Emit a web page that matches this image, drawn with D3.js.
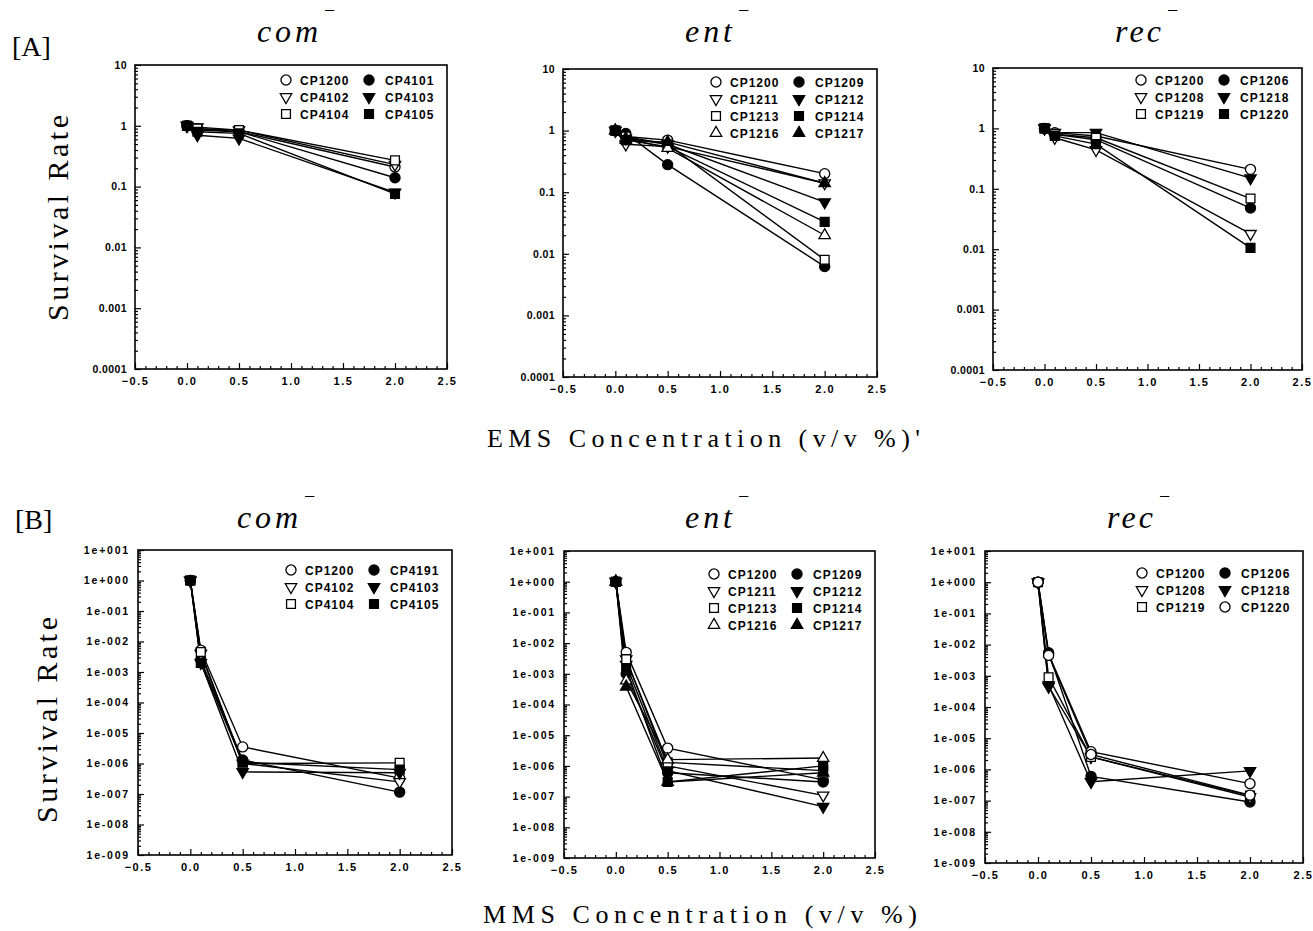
<!DOCTYPE html>
<html>
<head>
<meta charset="utf-8">
<title>Survival rate</title>
<script src="https://cdn.jsdelivr.net/npm/d3@7"></script>
<style>
  body { margin: 0; background: #fff; }
  svg { display: block; }
  .tick text { font-family: "Liberation Sans", Arial, sans-serif; font-weight: bold; fill: #000; }
  .lg { font-family: "Liberation Sans", Arial, sans-serif; font-weight: bold; font-size: 12px; letter-spacing: 1px; }
  .serif { font-family: "Liberation Serif", "DejaVu Serif", serif; fill: #000; }
</style>
</head>
<body>
<svg id="fig" width="1313" height="931"></svg>
<script>
// doses (v/v %)
var emsDose = [0, 0.1, 0.5, 2.0];
var mmsDose = [0, 0.1, 0.5, 2.0];

// strains per panel
var comStrains = ["CP1200", "CP4101", "CP4102", "CP4103", "CP4104", "CP4105"];
var comStrainsB = ["CP1200", "CP4191", "CP4102", "CP4103", "CP4104", "CP4105"];
var entStrains = ["CP1200", "CP1209", "CP1211", "CP1212", "CP1213", "CP1214", "CP1216", "CP1217"];
var recStrains = ["CP1200", "CP1206", "CP1208", "CP1218", "CP1219", "CP1220"];

// survival rates, EMS
var comEMS = [
  [1, 0.90, 0.80, 0.21],
  [1, 0.85, 0.80, 0.14],
  [1, 0.95, 0.85, 0.23],
  [1, 0.70, 0.62, 0.08],
  [1, 0.90, 0.85, 0.27],
  [1, 0.80, 0.75, 0.076]
];
var entEMS = [
  [1, 0.80, 0.70, 0.20],
  [1, 0.90, 0.28, 0.0062],
  [1, 0.60, 0.55, 0.14],
  [1, 0.75, 0.60, 0.069],
  [1, 0.80, 0.60, 0.008],
  [1, 0.70, 0.55, 0.033],
  [1, 0.75, 0.52, 0.020],
  [1, 0.70, 0.65, 0.14]
];
var recEMS = [
  [1, 0.85, 0.75, 0.21],
  [1, 0.80, 0.65, 0.048],
  [1, 0.70, 0.44, 0.018],
  [1, 0.85, 0.85, 0.15],
  [1, 0.80, 0.70, 0.069],
  [1, 0.75, 0.55, 0.0105]
];

// survival rates, MMS
var comMMS = [
  [1, 5.2e-3, 3.5e-6, 3.3e-7],
  [1, 2.5e-3, 1.3e-6, 1.15e-7],
  [1, 4e-3, 1.0e-6, 2.5e-7],
  [1, 2e-3, 5.3e-7, 5e-7],
  [1, 4.5e-3, 1.0e-6, 1.05e-6],
  [1, 2e-3, 1.1e-6, 6.3e-7]
];
var entMMS = [
  [1, 5e-3, 3.8e-6, 3.5e-7],
  [1, 1e-3, 6e-7, 3e-7],
  [1, 3e-3, 1e-6, 1.1e-7],
  [1, 2e-3, 7e-7, 4.7e-8],
  [1, 3e-3, 1.3e-6, 7e-7],
  [1, 1.5e-3, 3e-7, 1e-6],
  [1, 6e-4, 1.6e-6, 1.8e-6],
  [1, 3.8e-4, 3e-7, 6e-7]
];
var recMMS = [
  [1, 5e-3, 3.7e-6, 3.5e-7],
  [1, 5.5e-3, 6e-7, 9e-8],
  [1, 4.5e-4, 2.5e-6, 1.3e-7],
  [1, 5e-4, 4e-7, 9e-7],
  [1, 9e-4, 2.5e-6, 1.45e-7],
  [1, 4.5e-3, 3e-6, 1.5e-7]
];

// tick labels
var xTickValues = [-0.5, 0, 0.5, 1.0, 1.5, 2.0, 2.5];
var xTickLabels = ["\u22120.5", "0.0", "0.5", "1.0", "1.5", "2.0", "2.5"];
var emsYValues = [10, 1, 0.1, 0.01, 0.001, 0.0001];
var emsYLabels = ["10", "1", "0.1", "0.01", "0.001", "0.0001"];
var mmsYValues = [1e1, 1e0, 1e-1, 1e-2, 1e-3, 1e-4, 1e-5, 1e-6, 1e-7, 1e-8, 1e-9];
var mmsYLabels = ["1e+001", "1e+000", "1e-001", "1e-002", "1e-003", "1e-004",
                  "1e-005", "1e-006", "1e-007", "1e-008", "1e-009"];

// marker styles (shape, filled)
var sixMarks = [["circle", 0], ["circle", 1], ["down", 0], ["down", 1], ["square", 0], ["square", 1]];
var eightMarks = [["circle", 0], ["circle", 1], ["down", 0], ["down", 1], ["square", 0], ["square", 1], ["up", 0], ["up", 1]];
var recMarksB = [["circle", 0], ["circle", 1], ["down", 0], ["down", 1], ["square", 0], ["circle", 0]];

var panels = [
  {title: "com", strains: comStrains, dose: emsDose, vals: comEMS, marks: sixMarks, yv: emsYValues, yl: emsYLabels,
   L: {left: 135, right: 447, top: 65, bottom: 369, tx: 257, ty: 42, lgTop: 15}},
  {title: "ent", strains: entStrains, dose: emsDose, vals: entEMS, marks: eightMarks, yv: emsYValues, yl: emsYLabels,
   L: {left: 563, right: 877, top: 69, bottom: 377, tx: 685, ty: 42, lgTop: 13}},
  {title: "rec", strains: recStrains, dose: emsDose, vals: recEMS, marks: sixMarks, yv: emsYValues, yl: emsYLabels,
   L: {left: 993, right: 1302, top: 68, bottom: 370, tx: 1115, ty: 42, lgTop: 12}},
  {title: "com", strains: comStrainsB, dose: mmsDose, vals: comMMS, marks: sixMarks, yv: mmsYValues, yl: mmsYLabels,
   L: {left: 138, right: 452, top: 550, bottom: 855, tx: 237, ty: 528, lgTop: 20}},
  {title: "ent", strains: entStrains, dose: mmsDose, vals: entMMS, marks: eightMarks, yv: mmsYValues, yl: mmsYLabels,
   L: {left: 564, right: 875, top: 551, bottom: 858, tx: 685, ty: 528, lgTop: 23}},
  {title: "rec", strains: recStrains, dose: mmsDose, vals: recMMS, marks: recMarksB, yv: mmsYValues, yl: mmsYLabels,
   L: {left: 985, right: 1303, top: 551, bottom: 863, tx: 1107, ty: 528, lgTop: 22}}
];

var titleWidth = {com: 61, ent: 47, rec: 46};

var svg = d3.select("#fig");

var symbolOf = {
  circle: d3.symbol(d3.symbolCircle, 80),
  square: d3.symbol(d3.symbolSquare, 78),
  up: d3.symbol(d3.symbolTriangle, 56),
  down: d3.symbol(d3.symbolTriangle, 56)
};

function putMark(g, m, cx, cy) {
  g.append("path")
    .attr("d", symbolOf[m[0]]())
    .attr("transform", "translate(" + cx + "," + cy + ")" + (m[0] == "down" ? " rotate(180)" : ""))
    .attr("fill", m[1] ? "#000" : "#fff")
    .attr("stroke", "#000")
    .attr("stroke-width", 1.3);
}

panels.forEach(function(p) {
  var L = p.L;
  var g = svg.append("g");
  var x = d3.scaleLinear().domain([-0.5, 2.5]).range([L.left, L.right]);
  var yMax = d3.max(p.yv), yMin = d3.min(p.yv);
  var y = d3.scaleLog().domain([yMin, yMax]).range([L.bottom, L.top]);
  var isMMS = p.yv.length > 6;

  // minor ticks
  var xMinor = d3.range(-5, 26).map(function(i) { return i / 10; })
    .filter(function(v) { return Math.abs(v * 2 - Math.round(v * 2)) > 1e-6; });
  var yMinor = [];
  for (var e = Math.round(Math.log10(yMin)); e < Math.round(Math.log10(yMax)); e++) {
    for (var k = 2; k <= 9; k++) yMinor.push(k * Math.pow(10, e));
  }

  g.append("g").attr("transform", "translate(0," + L.bottom + ")")
    .call(d3.axisBottom(x).tickValues(xMinor).tickSize(-3).tickFormat(""))
    .call(function(s) { s.select(".domain").remove(); });
  g.append("g").attr("transform", "translate(0," + L.bottom + ")")
    .call(d3.axisBottom(x).tickValues(xTickValues).tickSize(-6).tickPadding(8)
      .tickFormat(function(d, i) { return xTickLabels[i]; }))
    .call(function(s) {
      s.select(".domain").remove();
      s.selectAll("text").style("font-size", "11px").style("letter-spacing", "1.5px");
    });

  g.append("g").attr("transform", "translate(" + L.left + ",0)")
    .call(d3.axisLeft(y).tickValues(yMinor).tickSize(-3).tickFormat(""))
    .call(function(s) { s.select(".domain").remove(); });
  g.append("g").attr("transform", "translate(" + L.left + ",0)")
    .call(d3.axisLeft(y).tickValues(p.yv).tickSize(-6).tickPadding(8)
      .tickFormat(function(d, i) { return p.yl[i]; }))
    .call(function(s) {
      s.select(".domain").remove();
      s.selectAll("text").style("font-size", isMMS ? "10.5px" : "10.5px")
        .style("letter-spacing", isMMS ? "1.8px" : "0.4px");
    });

  g.selectAll(".tick line").attr("stroke", "#000").attr("stroke-width", 1.2);

  g.append("rect")
    .attr("x", L.left).attr("y", L.top)
    .attr("width", L.right - L.left).attr("height", L.bottom - L.top)
    .attr("fill", "none").attr("stroke", "#000").attr("stroke-width", 1.6);

  // lines
  var line = d3.line()
    .x(function(d, i) { return x(p.dose[i]); })
    .y(function(d) { return y(d); });
  p.vals.forEach(function(s) {
    g.append("path").attr("d", line(s))
      .attr("fill", "none").attr("stroke", "#000").attr("stroke-width", 1.4);
  });
  // markers
  p.vals.forEach(function(s, si) {
    s.forEach(function(v, i) { putMark(g, p.marks[si], x(p.dose[i]), y(v)); });
  });

  // legend
  p.strains.forEach(function(name, i) {
    var col = i % 2, row = Math.floor(i / 2);
    var ly = L.top + L.lgTop + row * 17;
    var sx = L.right + (col ? -78 : -161);
    putMark(g, p.marks[i], sx, ly);
    g.append("text").attr("class", "lg")
      .attr("x", sx + (col ? 16 : 14)).attr("y", ly + 4.5)
      .text(name);
  });

  // title with superscript minus
  g.append("text").attr("class", "serif")
    .attr("x", L.tx).attr("y", L.ty)
    .attr("font-size", 32).attr("font-style", "italic")
    .attr("textLength", titleWidth[p.title])
    .attr("lengthAdjust", "spacing")
    .text(p.title);
  g.append("text").attr("class", "serif")
    .attr("x", L.tx + titleWidth[p.title] + 6).attr("y", L.ty - 25)
    .attr("font-size", 20)
    .text("\u2212");
});

// panel row labels
svg.append("text").attr("class", "serif").attr("x", 12).attr("y", 56).attr("font-size", 28).text("[A]");
svg.append("text").attr("class", "serif").attr("x", 15).attr("y", 529).attr("font-size", 28).text("[B]");

// y titles
[[68, 218], [57, 720]].forEach(function(c) {
  svg.append("text").attr("class", "serif")
    .attr("transform", "translate(" + c[0] + "," + c[1] + ") rotate(-90)")
    .attr("text-anchor", "middle").attr("font-size", 30)
    .attr("textLength", 206).attr("lengthAdjust", "spacing")
    .text("Survival Rate");
});

// x titles
svg.append("text").attr("class", "serif")
  .attr("x", 487).attr("y", 447).attr("font-size", 26)
  .attr("textLength", 433).attr("lengthAdjust", "spacing")
  .text("EMS Concentration (v/v %)'");
svg.append("text").attr("class", "serif")
  .attr("x", 483).attr("y", 923).attr("font-size", 26)
  .attr("textLength", 434).attr("lengthAdjust", "spacing")
  .text("MMS Concentration (v/v %)");
</script>
</body>
</html>
